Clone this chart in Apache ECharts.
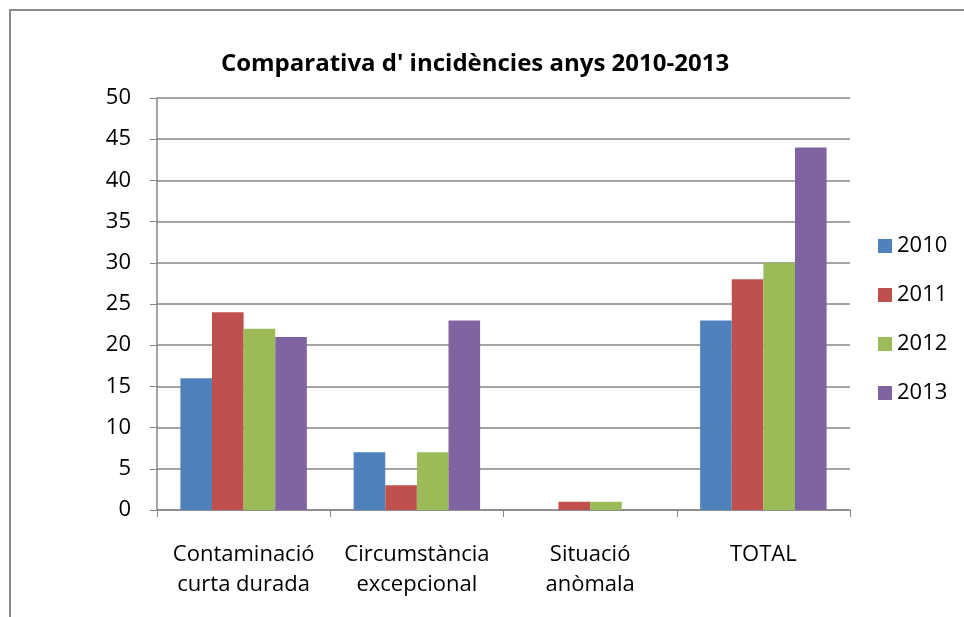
<!DOCTYPE html>
<html><head><meta charset="utf-8">
<script src="https://cdn.jsdelivr.net/npm/echarts@6/dist/echarts.min.js"></script>
<style>html,body{margin:0;padding:0;background:#fff}#c{width:964px;height:617px}</style>
</head><body><div id="c"></div>
<script>
const categories = ['Contaminació\ncurta durada', 'Circumstància\nexcepcional', 'Situació\nanòmala', 'TOTAL'];
const years = ['2010', '2011', '2012', '2013'];
const v2010 = [16, 7, 0, 23];
const v2011 = [24, 3, 1, 28];
const v2012 = [22, 7, 1, 30];
const v2013 = [21, 23, 0, 44];
const yTicks = [0, 50, 5];
const colors = ['#4F81BD', '#C0504D', '#9BBB59', '#8064A2'];
const seriesData = [v2010, v2011, v2012, v2013];
const font = '"Open Sans", "Noto Sans", sans-serif';
const chart = echarts.init(document.getElementById('c'));
chart.setOption({
  animation: false,
  color: colors,
  textStyle: {fontFamily: font},
  graphic: [{type: 'rect', shape: {x: 10, y: 10, width: 1000, height: 700}, style: {fill: 'none', stroke: '#8a8a8a', lineWidth: 2}, z: -1}],
  title: {text: "Comparativa d' incidències anys 2010-2013", left: 470, textAlign: 'center', top: 47,
    textStyle: {fontFamily: font, fontWeight: 'bold', fontSize: 24, color: '#000'}},
  legend: {orient: 'vertical', left: 873, top: 230, itemWidth: 14, itemHeight: 14, itemGap: 27, icon: 'rect',
    textStyle: {fontFamily: font, fontSize: 22, color: '#000', padding: [0, 0, 0, 0]}, data: years},
  grid: {left: 157, right: 114, top: 98, bottom: 107},
  xAxis: {type: 'category', data: categories,
    axisLine: {lineStyle: {color: '#868686', width: 1.5}},
    axisTick: {show: true, length: 7, lineStyle: {color: '#868686'}},
    axisLabel: {fontFamily: font, fontSize: 22, color: '#000', margin: 30, lineHeight: 30, interval: 0}},
  yAxis: {type: 'value', min: yTicks[0], max: yTicks[1], interval: yTicks[2],
    axisLine: {show: true, lineStyle: {color: '#868686', width: 1.5}},
    axisTick: {show: true, length: 7, lineStyle: {color: '#868686'}},
    splitLine: {lineStyle: {color: '#868686', width: 1.5}},
    axisLabel: {fontFamily: font, fontSize: 22, color: '#000', margin: 26}},
  series: years.map((y, i) => ({name: y, type: 'bar', data: seriesData[i], barGap: '0%', barCategoryGap: '27%'}))
});
</script></body></html>
